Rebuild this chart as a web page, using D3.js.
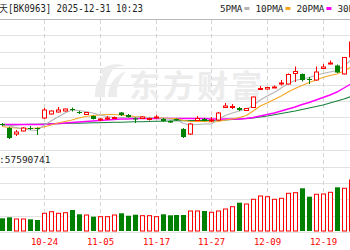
<!DOCTYPE html>
<html>
<head>
<meta charset="utf-8">
<script src="https://cdn.jsdelivr.net/npm/d3@7/dist/d3.min.js"></script>
<style>
body { margin: 0; background: #fff; }
svg { display: block; }
</style>
</head>
<body>
<div id="chart"></div>
<script>
// daily K-line, index level (volume in 万股)
var dates = ["10-16","10-17","10-20","10-21","10-22","10-23","10-24","10-27","10-28","10-29",
  "10-30","10-31","11-03","11-04","11-05","11-06","11-07","11-10","11-11","11-12",
  "11-13","11-14","11-17","11-18","11-19","11-20","11-21","11-24","11-25","11-26",
  "11-27","11-28","12-01","12-02","12-03","12-04","12-05","12-08","12-09","12-10",
  "12-11","12-12","12-15","12-16","12-17","12-18","12-19","12-22","12-23","12-24","12-25"];

var open = [1038,1036,1033,1034.5,1036,1036,1041,1043,1044,1044.5,
  1045.5,1044,1042.75,1042,1040.25,1040.75,1040.75,1043.75,1042.5,1040.75,
  1040.75,1040.25,1041.25,1040.5,1039.5,1040.5,1035.5,1033,1039.75,1040.5,
  1039.5,1040,1046.25,1046.5,1046,1044.75,1046.25,1055.5,1055.5,1056.25,
  1058,1058,1063.25,1063,1060.5,1060,1065.75,1068,1067.25,1063,1071.5];
var close = [1037.5,1031,1034,1036,1035.6,1035.5,1045,1044.5,1045,1045.5,
  1045,1043.5,1043.75,1040.5,1040.5,1041,1041.25,1042.5,1041.5,1040.5,
  1041.5,1040.75,1041.5,1039.5,1038.75,1039.75,1031.5,1038,1040.75,1039.5,
  1040,1043.5,1047,1046.75,1045,1045.75,1051.5,1055.75,1056.25,1056.5,
  1058.5,1062.75,1064.25,1060,1060,1064,1066.5,1068.5,1063.75,1071.25,1079];
var high = [1038.5,1036.5,1035,1036.5,1037,1036.25,1046,1044.75,1046.5,1045.75,
  1046.25,1044.5,1044,1042.25,1041,1042,1041.75,1044,1043,1041.25,
  1042,1041.25,1042.5,1041,1039.75,1040.75,1036,1038.5,1042,1041,
  1041.5,1044,1048.5,1048,1046.5,1046,1051.75,1057,1056.5,1057.25,
  1060,1063.25,1066.75,1063.25,1061.5,1066.75,1068,1069.75,1067.75,1071.5,1080];
var low = [1037,1030.5,1032,1034.25,1035,1032.5,1040.5,1042.75,1043.75,1044.25,
  1044.25,1043,1042.5,1040.25,1039.5,1040,1040.5,1042,1041.25,1038.5,
  1040.5,1039.75,1040.75,1039.25,1038.5,1039.5,1031,1032.5,1039.5,1039.25,
  1039,1039.75,1046,1045.5,1044.5,1044.5,1046,1055,1055.25,1056,
  1057.25,1057.75,1059,1059.25,1058,1059.75,1065.5,1067.75,1063.5,1062.75,1071.25];

var ma5 = [1037.75,1037,1036.25,1035.5,1035,1034.75,1037.25,1039.5,1041.5,1043.5,
  1045,1044.75,1044.25,1043.5,1042.5,1041.75,1041.25,1041.25,1041.25,1041.25,
  1041.5,1041.25,1041.25,1040.75,1040.5,1040,1038.25,1037.5,1037.75,1038,
  1038,1040.5,1042.25,1043.5,1044.5,1045.5,1047.25,1050,1052,1053.75,
  1056,1058.25,1059.75,1060.5,1061.25,1062.5,1063.25,1064,1064.75,1067,1070];
var ma10 = [1036.75,1036.25,1036,1035.75,1035.75,1036,1036.5,1037.5,1038.5,1039.25,
  1040,1041,1041.75,1042.25,1042.5,1042.75,1042.75,1042.5,1042.25,1041.75,
  1041.5,1041.25,1041.25,1041,1040.75,1040.75,1039.75,1039.25,1039.25,1039.25,
  1039,1039.25,1040,1040.5,1041.25,1042.25,1044.5,1047,1048.5,1050.25,
  1052,1054,1055.75,1057.25,1058.75,1060,1061.25,1062.25,1063,1064.5,1066.5];
var ma20 = [1037.75,1037.75,1037.75,1037.75,1037.75,1037.75,1037.75,1038,1038.25,1038.5,
  1038.75,1039,1039.25,1039.5,1039.75,1040,1040.25,1040.5,1040.5,1040.75,
  1040.75,1040.75,1040.75,1040.75,1040.75,1040.75,1040.75,1040.75,1040.75,1040.75,
  1040.5,1040.5,1040.5,1040.5,1040.5,1040.75,1041.25,1042,1042.75,1043.5,
  1044.5,1045.5,1046.5,1047.75,1048.75,1050,1051.25,1052.5,1054,1056,1058];
var ma30 = [1037.5,1037.5,1037.6,1037.75,1037.85,1037.9,1038,1038.1,1038.15,1038.25,
  1038.35,1038.4,1038.5,1038.6,1038.65,1038.75,1038.85,1038.9,1039,1039.1,
  1039.15,1039.25,1039.35,1039.4,1039.5,1039.6,1039.65,1039.75,1039.75,1039.75,
  1039.75,1039.9,1040,1040.25,1040.5,1040.75,1041,1041.5,1042,1042.6,
  1043.25,1043.85,1044.5,1045.25,1046,1046.75,1047.5,1048.5,1049.5,1050.5,1051.75];

var volume = [1270,1370,1200,1200,1170,1100,1770,1930,1770,1830,
  2100,1670,1600,1430,1430,1430,1600,1770,1530,1630,
  1530,1530,1430,1670,1570,1600,1600,2000,2000,2000,
  1870,2000,2200,2430,2830,2700,3170,3500,3430,3170,
  3270,3770,3830,4270,3430,3670,3700,3870,4370,4270,5100];

var tickDates = ["10-24","11-05","11-17","11-27","12-09","12-19"];
var maNames = ["5PMA","10PMA","20PMA","30PMA"];
var maColors = ["#b4b4b4","#f5a623","#ff00ff","#17803a"];

var title = "天[BK0963] 2025-12-31 10:23";
var volText = ":57590741";

var svgWidth = 350;
var svgHeight = 250;
var red = "#ff0000";
var green = "#008000";

var svg = d3.select("#chart")
  .append("svg")
  .attr("width", svgWidth)
  .attr("height", svgHeight);

// scales
var x = d3.scalePoint()
  .domain(dates)
  .range([2.1, 350.9]);

var yPrice = d3.scaleLinear()
  .domain([1024.9, 1090.5])
  .range([150.2, 19]);

var yVol = d3.scaleLinear()
  .domain([0, 6560])
  .range([231, 165.4]);

var cx = function(d) { return Math.round(x(d)); };

// grid rows
var grid = svg.append("g");
d3.range(0, 14).forEach(function(i) {
  var gy = Math.round(19 + 16.4 * i) + 0.5;
  grid.append("line")
    .attr("x1", 0).attr("x2", svgWidth)
    .attr("y1", gy).attr("y2", gy)
    .attr("stroke", i === 0 ? "#b8b8b8" : "#e2e2e2");
});

// dashed day columns
tickDates.forEach(function(d) {
  grid.append("line")
    .attr("x1", cx(d) + 0.5).attr("x2", cx(d) + 0.5)
    .attr("y1", 20).attr("y2", 233)
    .attr("stroke", "#d4d4d4")
    .attr("stroke-dasharray", "4,3");
});

// watermark
var wm = svg.append("g").attr("fill", "#ececec");
wm.append("path")
  .attr("d", "M95,97 C94,84 101,72 116,66 C108,75 104,85 105,97 Z");
wm.append("path")
  .attr("d", "M108,97 C108,86 114,76 126,71 C119,79 116,88 117,97 Z");
wm.append("path")
  .attr("d", "M100,70 C108,64 118,63 126,66 C117,66 108,69 102,75 Z");
wm.append("text")
  .attr("x", 129)
  .attr("y", 97)
  .attr("font-family", "Noto Sans CJK SC")
  .attr("font-weight", "bold")
  .attr("font-size", 31)
  .attr("letter-spacing", 3)
  .text("东方财富");

// moving averages
var maSeries = [ma5, ma10, ma20, ma30];
maSeries.slice().reverse().forEach(function(series, j) {
  var idx = maSeries.length - 1 - j;
  var line = d3.line()
    .x(function(v, i) { return x(dates[i]); })
    .y(function(v) { return yPrice(v); });
  svg.append("path")
    .datum(series)
    .attr("d", line)
    .attr("fill", "none")
    .attr("stroke", maColors[idx])
    .attr("stroke-width", idx === 2 ? 1.4 : 1.1);
});

// candles
var candles = svg.append("g")
  .selectAll("g")
  .data(dates)
  .enter()
  .append("g");

candles.append("line")
  .attr("x1", function(d) { return cx(d) + 0.5; })
  .attr("x2", function(d) { return cx(d) + 0.5; })
  .attr("y1", function(d, i) { return yPrice(high[i]); })
  .attr("y2", function(d, i) { return yPrice(low[i]); })
  .attr("stroke", function(d, i) { return close[i] >= open[i] ? red : green; });

candles.append("rect")
  .attr("x", function(d, i) { return close[i] >= open[i] ? cx(d) - 1.5 : cx(d) - 2; })
  .attr("width", function(d, i) { return close[i] >= open[i] ? 4 : 5; })
  .attr("y", function(d, i) { return yPrice(Math.max(open[i], close[i])); })
  .attr("height", function(d, i) {
    return Math.max(1, Math.abs(yPrice(open[i]) - yPrice(close[i])));
  })
  .attr("fill", function(d, i) { return close[i] >= open[i] ? "#fff" : green; })
  .attr("stroke", function(d, i) { return close[i] >= open[i] ? red : "none"; });

// volume
svg.append("g")
  .selectAll("rect")
  .data(dates)
  .enter()
  .append("rect")
  .attr("x", function(d, i) { return close[i] >= open[i] ? cx(d) - 1.5 : cx(d) - 2; })
  .attr("width", function(d, i) { return close[i] >= open[i] ? 4 : 5; })
  .attr("y", function(d, i) { return yVol(volume[i]); })
  .attr("height", function(d, i) { return yVol(0) - yVol(volume[i]); })
  .attr("fill", function(d, i) { return close[i] >= open[i] ? "#fff" : green; })
  .attr("stroke", function(d, i) { return close[i] >= open[i] ? red : "none"; });

// date labels
svg.append("g")
  .selectAll("text")
  .data(tickDates)
  .enter()
  .append("text")
  .attr("x", function(d) { return cx(d) + 0.5; })
  .attr("y", 245)
  .attr("text-anchor", "middle")
  .attr("font-family", "DejaVu Sans Mono")
  .attr("font-size", 9)
  .attr("fill", red)
  .text(function(d) { return d; });

// header
svg.append("text")
  .attr("x", -1)
  .attr("y", 12)
  .attr("font-family", "DejaVu Sans Mono")
  .attr("font-size", 10)
  .attr("textLength", 144)
  .attr("lengthAdjust", "spacingAndGlyphs")
  .attr("fill", "#222")
  .text(title);

svg.append("text")
  .attr("x", -1)
  .attr("y", 163)
  .attr("font-family", "DejaVu Sans Mono")
  .attr("font-size", 9.5)
  .attr("fill", "#222")
  .text(volText);

// legend
var lx = 220;
maNames.forEach(function(name, i) {
  var t = svg.append("text")
    .attr("x", lx)
    .attr("y", 12)
    .attr("font-family", "DejaVu Sans Mono")
    .attr("font-size", 9)
    .attr("textLength", name.length * 5.6)
    .attr("lengthAdjust", "spacingAndGlyphs")
    .attr("fill", "#222")
    .text(name);
  lx += name.length * 5.6 + 2;
  svg.append("rect")
    .attr("x", lx)
    .attr("y", 7)
    .attr("width", 5)
    .attr("height", 3)
    .attr("fill", maColors[i]);
  lx += 11;
});
</script>
</body>
</html>
